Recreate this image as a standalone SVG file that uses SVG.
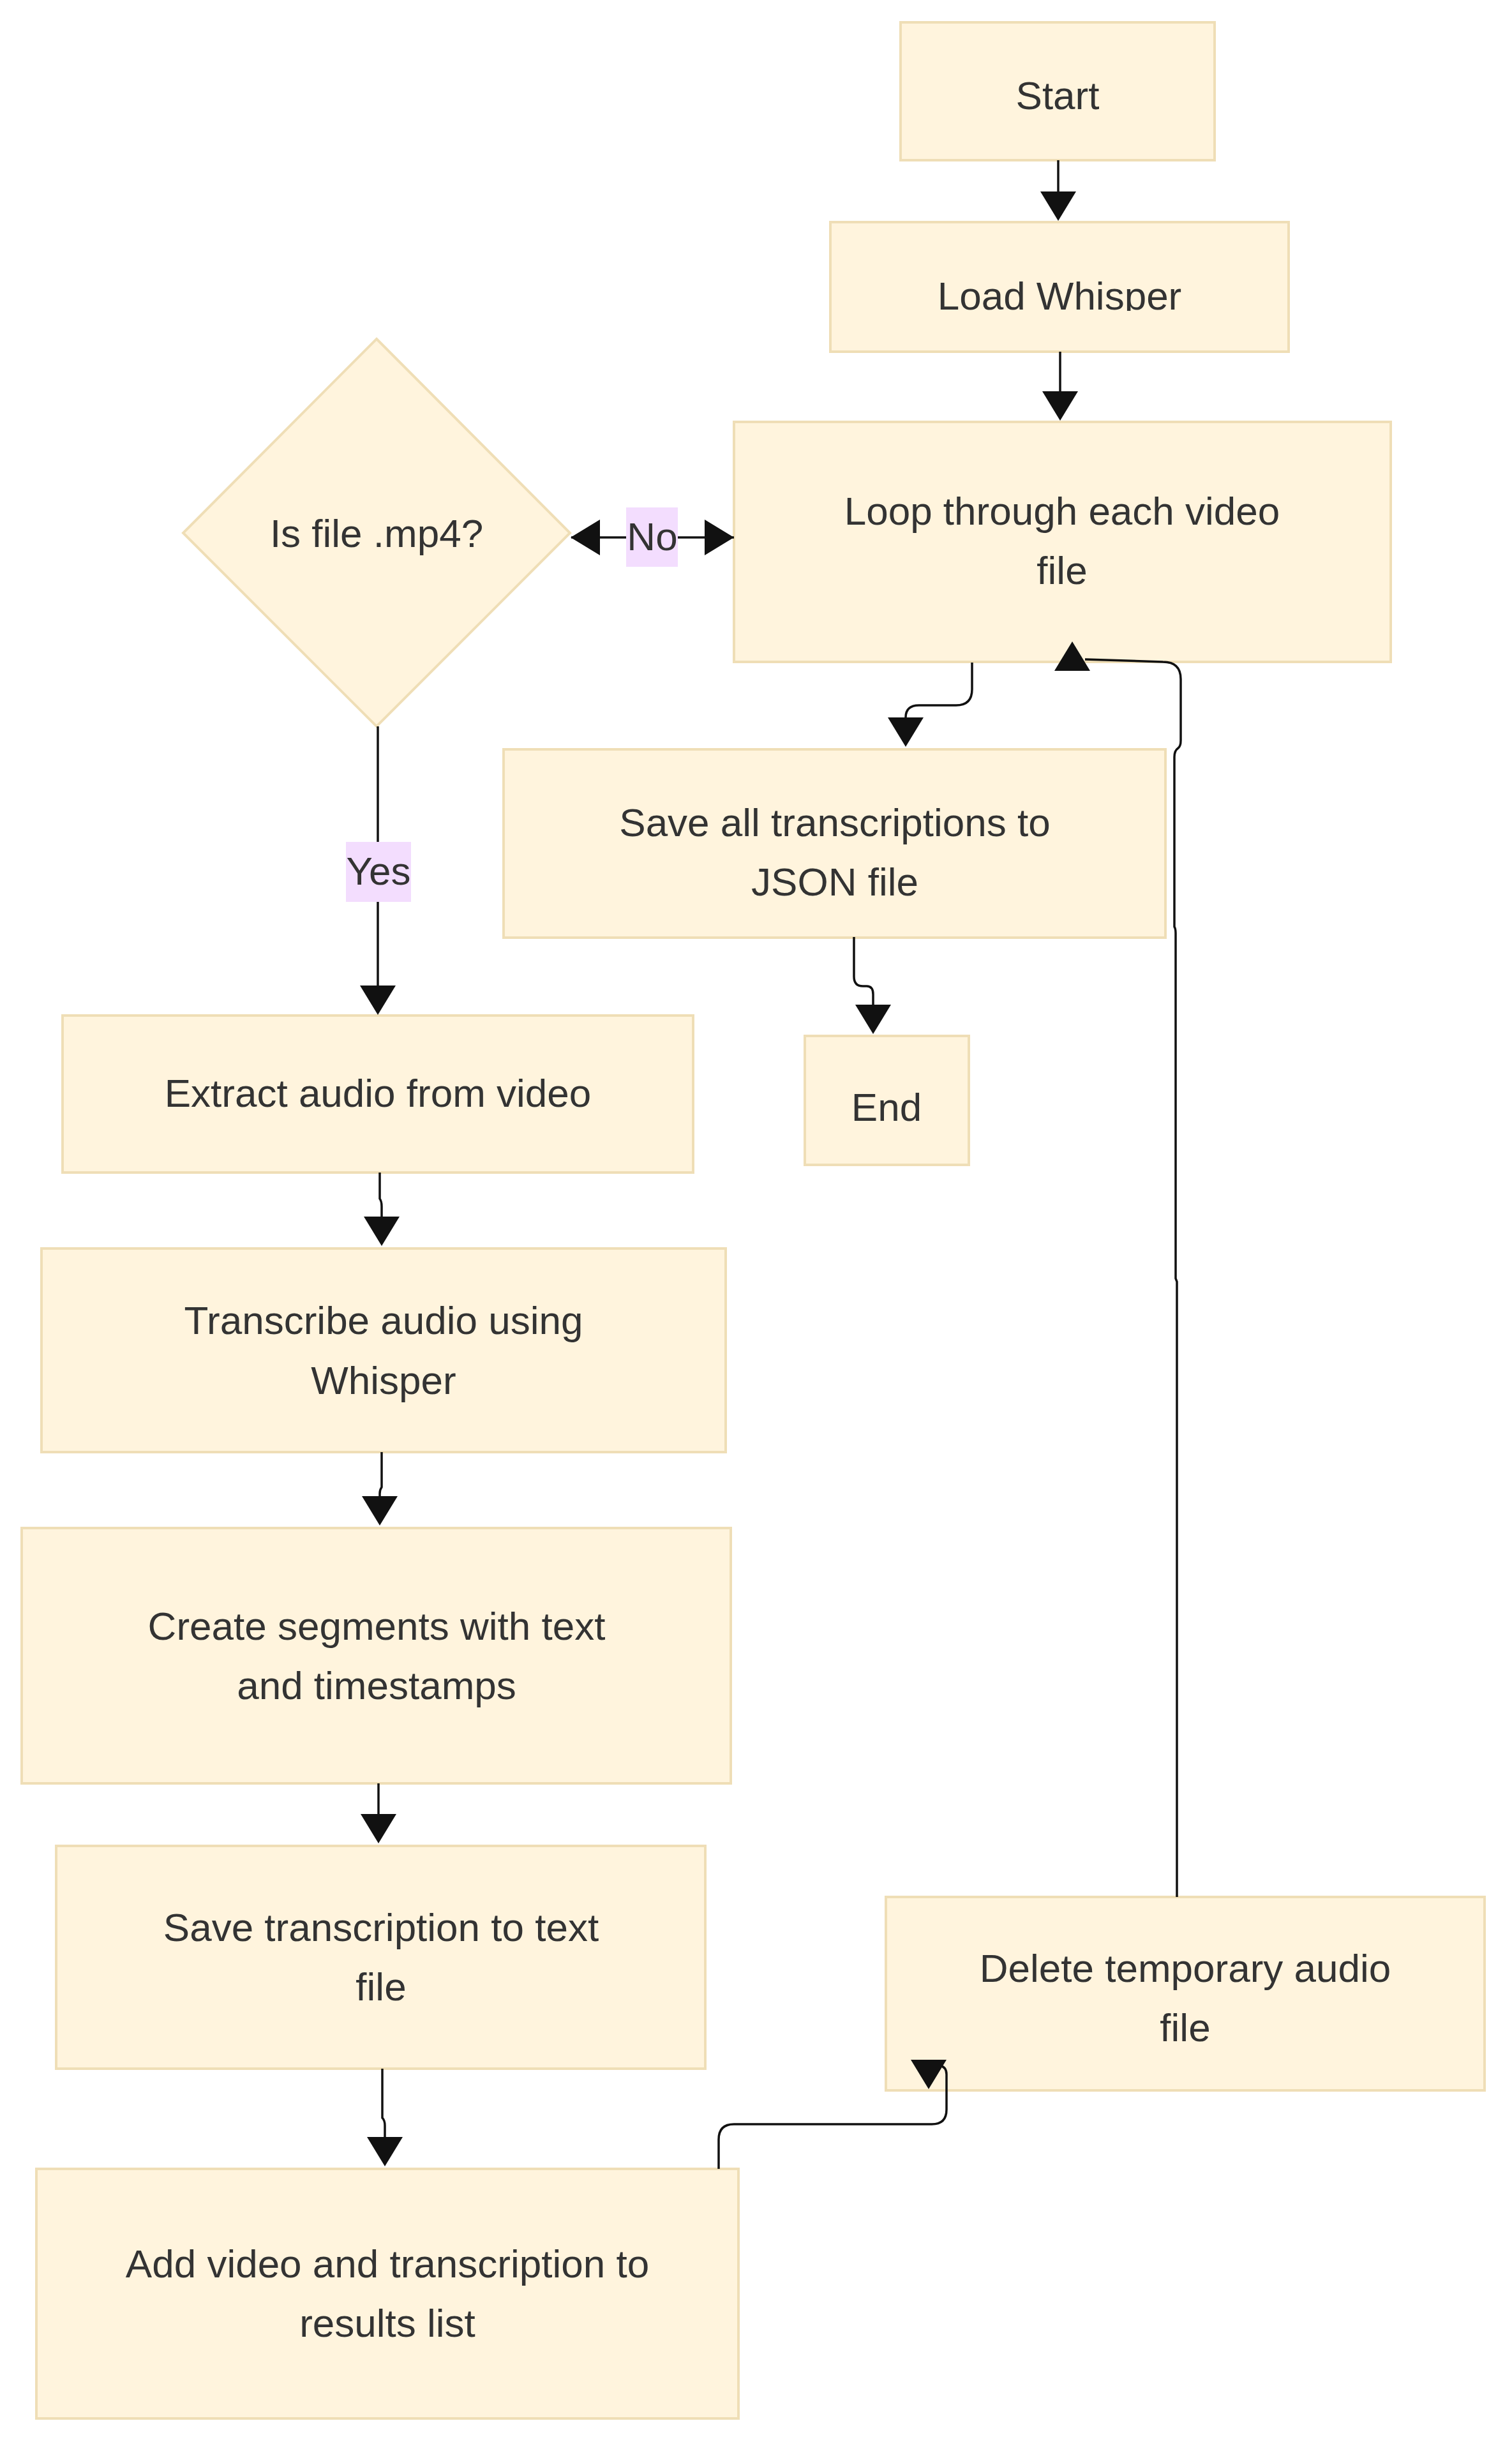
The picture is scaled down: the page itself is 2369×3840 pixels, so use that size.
<svg xmlns="http://www.w3.org/2000/svg" xmlns:xlink="http://www.w3.org/1999/xlink" width="2369" height="3840" viewBox="0 0 2369 3840">
<style>
.node{fill:#fff4dd;stroke:#efdeb6;stroke-width:4}
.lbl{font-family:"Liberation Sans",Arial,sans-serif;font-size:62px;fill:#333333;text-anchor:middle}
.edge{fill:none;stroke:#111111;stroke-width:3.5}
.ebg{fill:#f3ddfe}
.ah{fill:#111111}
</style>
<defs>
<path id="ah" d="M0,0 L-28,-46 L28,-46 Z"/>
<clipPath id="clipLoad"><rect x="1301" y="347" width="718" height="140"/></clipPath>
</defs>
<rect width="2369" height="3840" fill="#ffffff"/>
<g id="start">
<rect class="node" x="1411" y="35" width="492" height="216"/>
<text class="lbl" x="1657" y="171">Start</text>
</g>
<g id="load">
<rect class="node" x="1301" y="348" width="718" height="203"/>
<text class="lbl" x="1660" y="485" clip-path="url(#clipLoad)">Load Whisper</text>
</g>
<g id="loop">
<rect class="node" x="1150" y="661" width="1029" height="376"/>
<text class="lbl" x="1664" y="822">Loop through each video</text>
<text class="lbl" x="1664" y="915">file</text>
</g>
<g id="decision">
<polygon class="node" points="590,531 893,835 590,1138 287,835" stroke-width="3"/>
<text class="lbl" x="590" y="857">Is file .mp4?</text>
</g>
<g id="saveall">
<rect class="node" x="789" y="1174" width="1037" height="295"/>
<text class="lbl" x="1308" y="1310">Save all transcriptions to</text>
<text class="lbl" x="1308" y="1403">JSON file</text>
</g>
<g id="end">
<rect class="node" x="1261" y="1623" width="257" height="202"/>
<text class="lbl" x="1389" y="1756">End</text>
</g>
<g id="extract">
<rect class="node" x="98" y="1591" width="988" height="246"/>
<text class="lbl" x="592" y="1734">Extract audio from video</text>
</g>
<g id="transcribe">
<rect class="node" x="65" y="1956" width="1072" height="319"/>
<text class="lbl" x="601" y="2090">Transcribe audio using</text>
<text class="lbl" x="601" y="2184">Whisper</text>
</g>
<g id="segments">
<rect class="node" x="34" y="2394" width="1111" height="400"/>
<text class="lbl" x="590" y="2569">Create segments with text</text>
<text class="lbl" x="590" y="2662">and timestamps</text>
</g>
<g id="savetext">
<rect class="node" x="88" y="2892" width="1017" height="349"/>
<text class="lbl" x="597" y="3041">Save transcription to text</text>
<text class="lbl" x="597" y="3134">file</text>
</g>
<g id="addresult">
<rect class="node" x="57" y="3398" width="1100" height="391"/>
<text class="lbl" x="607" y="3568">Add video and transcription to</text>
<text class="lbl" x="607" y="3661">results list</text>
</g>
<g id="delete">
<rect class="node" x="1388" y="2972" width="938" height="303"/>
<text class="lbl" x="1857" y="3105">Delete temporary audio</text>
<text class="lbl" x="1857" y="3198">file</text>
</g>
<g id="connectors">
<path class="edge" d="M1658,251 L1658,302"/>
<use xlink:href="#ah" class="ah" transform="translate(1658,346)"/>
<path class="edge" d="M1661,551 L1661,614"/>
<use xlink:href="#ah" class="ah" transform="translate(1661,659)"/>
<path class="edge" d="M895,842 L1150,842"/>
<use xlink:href="#ah" class="ah" transform="translate(894,842) rotate(90)"/>
<use xlink:href="#ah" class="ah" transform="translate(1150,842) rotate(-90)"/>
<path class="edge" d="M592,1138 L592,1545"/>
<use xlink:href="#ah" class="ah" transform="translate(592,1590)"/>
<path class="edge" d="M1523,1038 L1523,1080 Q1523,1105 1498,1105 L1440,1105 Q1419,1105 1419,1124 L1419,1128"/>
<use xlink:href="#ah" class="ah" transform="translate(1419,1170)"/>
<path class="edge" d="M1338,1468 L1338,1530 Q1338,1545 1352,1545 L1358,1545 Q1368,1545 1368,1558 L1368,1576"/>
<use xlink:href="#ah" class="ah" transform="translate(1368,1620)"/>
<path class="edge" d="M595,1837 L595,1878 Q598,1882 598,1890 L598,1908"/>
<use xlink:href="#ah" class="ah" transform="translate(598,1952)"/>
<path class="edge" d="M598,2275 L598,2330 Q595,2334 595,2340 L595,2347"/>
<use xlink:href="#ah" class="ah" transform="translate(595,2390)"/>
<path class="edge" d="M593,2794 L593,2845"/>
<use xlink:href="#ah" class="ah" transform="translate(593,2888)"/>
<path class="edge" d="M599,3241 L599,3318 Q603,3322 603,3330 L603,3349"/>
<use xlink:href="#ah" class="ah" transform="translate(603,3394)"/>
<path class="edge" d="M1126,3398 L1126,3352 Q1126,3328 1150,3328 L1460,3328 Q1483,3328 1483,3305 L1483,3250 Q1483,3238 1472,3236"/>
<use xlink:href="#ah" class="ah" transform="translate(1455,3273)"/>
<path class="edge" d="M1844,2972 L1844,2008 L1842,2003 L1842,1462 Q1842,1455 1840,1452 L1840,1186 Q1840,1176 1846,1172 Q1850,1169 1850,1160 L1850,1064 Q1850,1037 1822,1037 L1700,1033"/>
<use xlink:href="#ah" class="ah" transform="translate(1680,1005) rotate(180)"/>
<rect class="ebg" x="981" y="795" width="81" height="93"/>
<text class="lbl" x="1022" y="862">No</text>
<rect class="ebg" x="542" y="1319" width="102" height="94"/>
<text class="lbl" x="593" y="1386">Yes</text>
</g>
</svg>
